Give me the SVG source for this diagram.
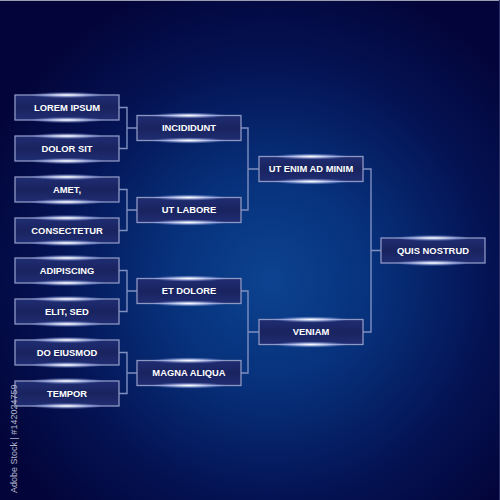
<svg xmlns="http://www.w3.org/2000/svg" width="500" height="500" viewBox="0 0 500 500">
<defs>
<radialGradient id="bg" cx="0.54" cy="0.56" r="0.62">
<stop offset="0" stop-color="#0c4390"/>
<stop offset="0.35" stop-color="#07307a"/>
<stop offset="0.7" stop-color="#041354"/>
<stop offset="1" stop-color="#03053a"/>
</radialGradient>
<linearGradient id="boxfill" x1="0" y1="0" x2="0" y2="1">
<stop offset="0" stop-color="#1f2d72"/>
<stop offset="0.5" stop-color="#19235f"/>
<stop offset="1" stop-color="#1f2d72"/>
</linearGradient>
<radialGradient id="glow" cx="0.5" cy="0.5" r="0.5">
<stop offset="0" stop-color="#ffffff" stop-opacity="1"/>
<stop offset="0.35" stop-color="#dfe6ff" stop-opacity="0.7"/>
<stop offset="1" stop-color="#8fa6ff" stop-opacity="0"/>
</radialGradient>
<g id="box">
<rect x="0" y="0" width="104" height="25" fill="url(#boxfill)" stroke="#8d97c4" stroke-width="1.3"/>
<ellipse cx="52" cy="0" rx="38" ry="3.2" fill="url(#glow)"/>
<ellipse cx="52" cy="25" rx="38" ry="3.2" fill="url(#glow)"/>
</g>
</defs>
<style>
.lbl{font-family:"Liberation Sans",Arial,sans-serif;font-weight:bold;font-size:9.4px;fill:#ffffff;text-anchor:middle}
.con{fill:none;stroke:#7f8fc0;stroke-width:1.4}
.wm{font-family:"Liberation Sans",Arial,sans-serif;font-size:9px;fill:#b4b6cc}
</style>
<rect x="0" y="0" width="500" height="500" fill="url(#bg)"/>
<line x1="0" y1="0.5" x2="500" y2="0.5" stroke="#9a9cb0" stroke-width="1"/>
<line x1="499.5" y1="0" x2="499.5" y2="500" stroke="#2a3066" stroke-width="1"/>

<g id="connectors">
<path class="con" d="M119,107.5 H127 V148.5 H119 M127,128 H137"/>
<path class="con" d="M119,189.5 H127 V230.5 H119 M127,210 H137"/>
<path class="con" d="M119,270.5 H127 V311.5 H119 M127,291 H137"/>
<path class="con" d="M119,352.5 H127 V393.5 H119 M127,373 H137"/>
<path class="con" d="M241,128 H248 V210 H241 M248,169 H259"/>
<path class="con" d="M241,291 H248 V373 H241 M248,332 H259"/>
<path class="con" d="M363,169 H371 V332 H363 M371,250.5 H381"/>
</g>

<g id="n-lorem-ipsum"><use href="#box" x="15" y="95"/><text class="lbl" x="67" y="110.8">LOREM IPSUM</text></g>
<g id="n-dolor-sit"><use href="#box" x="15" y="136"/><text class="lbl" x="67" y="151.8">DOLOR SIT</text></g>
<g id="n-amet"><use href="#box" x="15" y="177"/><text class="lbl" x="67" y="192.8">AMET,</text></g>
<g id="n-consectetur"><use href="#box" x="15" y="218"/><text class="lbl" x="67" y="233.8">CONSECTETUR</text></g>
<g id="n-adipiscing"><use href="#box" x="15" y="258"/><text class="lbl" x="67" y="273.8">ADIPISCING</text></g>
<g id="n-elit-sed"><use href="#box" x="15" y="299"/><text class="lbl" x="67" y="314.8">ELIT, SED</text></g>
<g id="n-do-eiusmod"><use href="#box" x="15" y="340"/><text class="lbl" x="67" y="355.8">DO EIUSMOD</text></g>
<g id="n-tempor"><use href="#box" x="15" y="381"/><text class="lbl" x="67" y="396.8">TEMPOR</text></g>

<g id="n-incididunt"><use href="#box" x="137" y="115.5"/><text class="lbl" x="189" y="131.3">INCIDIDUNT</text></g>
<g id="n-ut-labore"><use href="#box" x="137" y="197.5"/><text class="lbl" x="189" y="213.3">UT LABORE</text></g>
<g id="n-et-dolore"><use href="#box" x="137" y="278.5"/><text class="lbl" x="189" y="294.3">ET DOLORE</text></g>
<g id="n-magna-aliqua"><use href="#box" x="137" y="360.5"/><text class="lbl" x="189" y="376.3">MAGNA ALIQUA</text></g>

<g id="n-ut-enim"><use href="#box" x="259" y="156.5"/><text class="lbl" x="311" y="172.3">UT ENIM AD MINIM</text></g>
<g id="n-veniam"><use href="#box" x="259" y="319.5"/><text class="lbl" x="311" y="335.3">VENIAM</text></g>

<g id="n-quis-nostrud"><use href="#box" x="381" y="238"/><text class="lbl" x="433" y="253.8">QUIS NOSTRUD</text></g>

<text class="wm" transform="translate(16.5,493) rotate(-90)">Adobe Stock | #142024759</text>
</svg>
